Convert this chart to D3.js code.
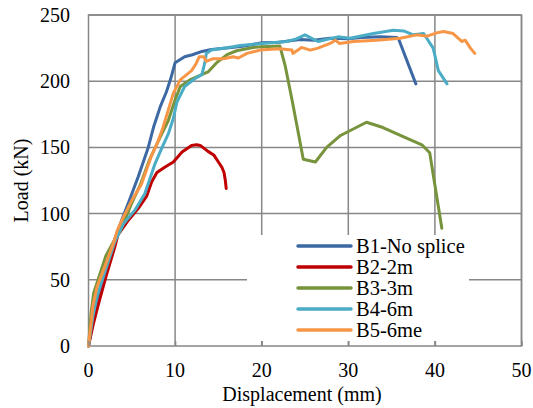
<!DOCTYPE html>
<meta charset="utf-8">

<head>
  <title>Load vs displacement</title>
</head>

<style>
  body { margin: 0; background: #fff; }
  text { font-family: "Liberation Serif", "Times New Roman", serif; fill: #000; }
</style>

<body>
  <svg width="533" height="408">
    <g></g>
  </svg>

  <script src="https://cdn.jsdelivr.net/npm/d3@7"></script>
  <script>
    // data: [displacement (mm), load (kN)]
    var b1 = [[0, 0], [0.5, 18], [1, 35], [2, 58], [3, 80], [4, 98], [4.6, 108], [5.75, 128], [6.9, 150], [7.5, 165],
      [8.3, 181], [9, 192], [9.5, 202], [10, 214], [11.1, 218.5], [12, 220], [13.1, 222.5], [14.2, 224], [16, 225],
      [18, 226.5], [20, 229], [22, 229.5], [24.4, 231.5], [26, 231], [27.9, 232.5], [30, 232], [31.5, 233],
      [33.7, 233.5], [35.6, 233], [35.8, 232], [37.8, 198]];
    var b2 = [[0, 0], [0.5, 15], [1, 28], [2, 52], [3, 74], [3.4, 84], [4.6, 95], [5.75, 104], [6.7, 113], [7.3, 124],
      [7.9, 131], [8.8, 135], [9.8, 139], [10.8, 146.5], [11.9, 151.5], [12.5, 152], [12.9, 151.5], [13.8, 147],
      [14.5, 144], [15, 139], [15.4, 135], [15.65, 131], [15.8, 125], [15.9, 119]];
    var b3 = [[0, 0], [0.3, 25], [0.6, 40], [1.2, 52], [2, 68], [3, 80], [3.6, 86], [4.2, 95], [5, 108], [6, 122],
      [7, 140], [8, 154], [9.2, 170], [10, 186], [10.6, 196], [11.7, 201], [13.8, 207], [14.8, 214], [16, 220],
      [17.1, 223], [19, 225.5], [20, 226], [22.1, 226.5], [22.7, 212], [23.5, 186], [24.6, 148], [24.8, 141],
      [26.2, 139], [27.5, 150], [29.1, 159], [32.1, 169], [34, 165], [36.4, 158], [38.5, 152], [39.4, 146],
      [40.8, 89]];
    var b4 = [[0, 0], [0.5, 22], [1, 38], [2, 58], [3, 78], [4, 92], [5.4, 103], [6.5, 115], [7.7, 138], [8.5, 150],
      [9.2, 160], [9.8, 172], [10.2, 184], [11.1, 196], [12.3, 202], [13.1, 205], [13.5, 216], [13.6, 221],
      [14.2, 223.5], [16.7, 226], [17.5, 227], [20, 228.5], [22.9, 230], [24, 232], [25, 235], [26.5, 230],
      [28.8, 233.5], [30.2, 232.5], [32.9, 236], [35.2, 238.5], [36.4, 238], [37.5, 235], [38.7, 236],
      [39.8, 225], [40.4, 208], [41.4, 198]];
    var b5 = [[0, 0], [0.5, 30], [1, 45], [2, 62], [3, 80], [3.3, 87], [4, 97], [5, 110], [6.1, 122], [7.3, 144],
      [8, 154], [8.6, 165], [9.2, 178], [9.8, 191], [10.6, 201], [11.9, 208], [12.4, 213], [12.8, 218.5],
      [13.3, 218.5], [13.6, 215], [14.4, 217], [15.6, 217], [16.7, 218.5], [17.3, 217.5], [18.3, 221],
      [19.8, 223.5], [22.1, 224.5], [22.9, 224], [23.5, 223.5], [23.6, 221], [24.6, 225.5], [25.6, 223.5],
      [26.5, 225], [27.9, 228.5], [28.5, 231], [29, 228.5], [30.6, 230], [33.3, 231], [36, 232.5], [37.9, 235],
      [39.1, 234], [40.2, 236.5], [41, 237.5], [42.1, 236], [43.1, 230], [43.5, 231], [44.1, 225], [44.6, 221]];

    var names = ['B1-No splice', 'B2-2m', 'B3-3m', 'B4-6m', 'B5-6me'];
    var colors = ['#3c69a3', '#c00000', '#77933c', '#4bacc6', '#f79646'];
    var xTicks = [0, 10, 20, 30, 40, 50];
    var yTicks = [0, 50, 100, 150, 200, 250];
    var series = [b1, b2, b3, b4, b5];

    // plot box (avoid the global names top/left)
    var pL = 88.5, pR = 521.5, pT = 15, pB = 346;
    var xScale = d3.scaleLinear().domain([0, 50]).range([pL, pR]);
    var yScale = d3.scaleLinear().domain([0, 250]).range([pB, pT]);
    var grid = '#878787';

    var scene = d3.select('g');

    // grid
    scene.append('g')
      .selectAll('line')
      .data(yTicks.slice(1))
      .enter()
      .append('line')
      .attr('x1', pL).attr('x2', pR)
      .attr('y1', d => yScale(d)).attr('y2', d => yScale(d))
      .attr('stroke', grid)
      .attr('stroke-width', 1.5);
    scene.append('g')
      .selectAll('line')
      .data(xTicks.slice(1))
      .enter()
      .append('line')
      .attr('y1', pT).attr('y2', pB)
      .attr('x1', d => xScale(d)).attr('x2', d => xScale(d))
      .attr('stroke', grid)
      .attr('stroke-width', 1.5);
    scene.append('rect')
      .attr('x', pL).attr('y', pT)
      .attr('width', pR - pL).attr('height', pB - pT)
      .attr('fill', 'none')
      .attr('stroke', grid)
      .attr('stroke-width', 1.5);

    var line = d3.line()
      .x(d => xScale(d[0]))
      .y(d => yScale(d[1]));

    scene.append('g')
      .selectAll('path')
      .data(series)
      .enter()
      .append('path')
      .attr('d', line)
      .attr('fill', 'none')
      .attr('stroke', (d, i) => colors[i])
      .attr('stroke-width', 3)
      .attr('stroke-linejoin', 'round')
      .attr('stroke-linecap', 'round');

    // legend (white box over the grid)
    var legend = scene.append('g');
    legend.append('rect')
      .attr('x', 247).attr('y', 235)
      .attr('width', 222).attr('height', 106)
      .attr('fill', '#fff');
    var items = legend.selectAll('g')
      .data(names)
      .enter()
      .append('g')
      .attr('transform', (d, i) => 'translate(298,' + (246 + i * 21) + ')');
    items.append('line')
      .attr('x2', 53)
      .attr('stroke', (d, i) => colors[i])
      .attr('stroke-width', 3.5)
      .attr('stroke-linecap', 'round');
    items.append('text')
      .attr('x', 58)
      .attr('dy', '0.35em')
      .style('font-size', '20.5px')
      .text(d => d);

    // inner tick marks on the bottom axis
    scene.append('g')
      .attr('transform', 'translate(0,' + pB + ')')
      .call(d3.axisBottom(xScale).tickValues(xTicks).tickSize(-5).tickFormat(''))
      .call(g => g.select('.domain').remove())
      .call(g => g.selectAll('line').attr('stroke', grid).attr('stroke-width', 1.5));

    // tick labels
    scene.append('g')
      .selectAll('text')
      .data(xTicks)
      .enter()
      .append('text')
      .attr('x', d => xScale(d))
      .attr('y', 377)
      .attr('text-anchor', 'middle')
      .style('font-size', '20px')
      .text(d => d);
    scene.append('g')
      .selectAll('text')
      .data(yTicks)
      .enter()
      .append('text')
      .attr('x', 70)
      .attr('y', d => yScale(d))
      .attr('dy', '0.35em')
      .attr('text-anchor', 'end')
      .style('font-size', '20px')
      .text(d => d);

    // axis titles
    scene.append('text')
      .attr('x', (pL + pR) / 2 - 3)
      .attr('y', 401)
      .attr('text-anchor', 'middle')
      .style('font-size', '20px')
      .text('Displacement (mm)');
    scene.append('text')
      .attr('transform', 'translate(28,' + ((pT + pB) / 2) + ') rotate(-90)')
      .attr('text-anchor', 'middle')
      .style('font-size', '20px')
      .text('Load (kN)');
  </script>
</body>

</html>
